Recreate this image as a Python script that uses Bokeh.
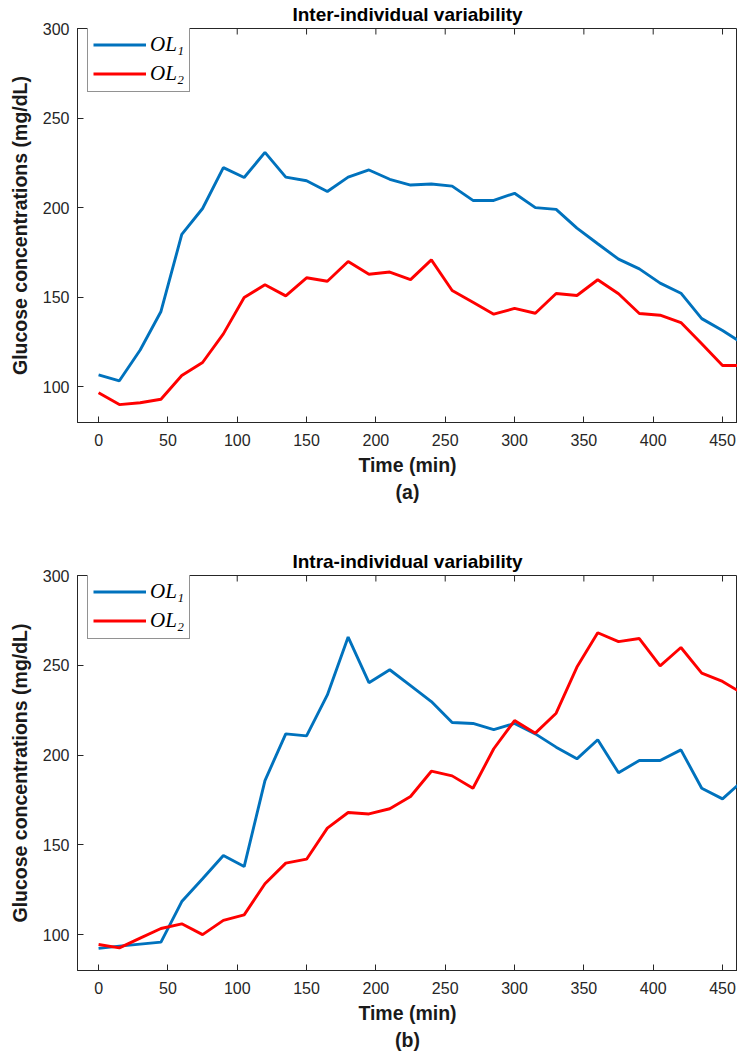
import math
from bokeh.plotting import figure
from bokeh.models import Range1d, FixedTicker, Legend, LegendItem, Title
from bokeh.layouts import column
from bokeh.embed import file_html
from bokeh.resources import INLINE

# ---- data ----
time_min = [0, 15, 30, 45, 60, 75, 90, 105, 120, 135, 150, 165, 180, 195, 210, 225,
            240, 255, 270, 285, 300, 315, 330, 345, 360, 375, 390, 405, 420, 435, 450, 465]

inter_ol1 = [106.6, 103.3, 120.5, 142, 185, 199.5, 222.3, 216.8, 230.8, 217,
             215, 209, 217, 221, 215.8, 212.6, 213.2, 212, 204, 204,
             208, 200, 199, 188.5, 179.8, 171.2, 165.8, 157.8, 152.2, 138,
             131.4, 124]
inter_ol2 = [96.6, 90, 91, 93, 106.2, 113.5, 129.5, 149.8, 156.9, 150.7,
             160.8, 158.9, 169.9, 162.8, 164, 159.8, 170.8, 153.7, 147.2, 140.5,
             143.7, 141, 152, 150.9, 159.7, 151.9, 140.9, 139.9, 135.8, 124,
             111.8, 111.8]

intra_ol1 = [92.3, 93.6, 94.7, 95.8, 118.4, 131.1, 144.1, 137.9, 185.8, 211.8,
             210.7, 233.5, 265.7, 240.3, 247.5, 238.7, 229.8, 218.1, 217.6, 214.1,
             217.6, 211.8, 204.4, 197.9, 208.5, 190.1, 197, 197, 202.9, 181.5,
             175.6, 186]
intra_ol2 = [94.5, 92.6, 98, 103.4, 106, 100, 107.9, 111, 128.3, 139.8,
             142, 159.3, 168, 167.2, 170.1, 176.9, 191, 188.4, 181.5, 203.5,
             219.2, 212.2, 223.3, 249, 268.1, 263.2, 264.9, 249.7, 259.9, 245.6,
             241, 234]

x_ticks = [0, 50, 100, 150, 200, 250, 300, 350, 400, 450]
y_ticks = [100, 150, 200, 250, 300]
y_top = 300
series_labels = ["OL\u2081", "OL\u2082"]
titles = ["Inter-individual variability", "Intra-individual variability"]
sublabels = ["(a)", "(b)"]

FONT = "Liberation Sans"
AX = "#262626"
BLUE = "#0072BD"
RED = "#FF0000"


def make_fig(title, sub, ol1, ol2, height, top, frame_h):
    p = figure(width=737, height=height, output_backend="svg", toolbar_location=None,
               x_range=Range1d(-15.2, 460.8), y_range=Range1d(80, y_top),
               min_border_left=77, min_border_right=0, min_border_top=top,
               min_border_bottom=height - top - frame_h)
    p.xgrid.visible = False
    p.ygrid.visible = False
    p.outline_line_color = AX
    p.outline_line_width = 1
    p.background_fill_color = "white"
    p.border_fill_color = "white"

    r1 = p.line(time_min, ol1, line_color=BLUE, line_width=2.9)
    r2 = p.line(time_min, ol2, line_color=RED, line_width=2.9)

    # inward tick marks along the top edge of the box (clipped to the frame)
    p.scatter(x=x_ticks, y=[y_top] * len(x_ticks), marker="dash", angle=math.pi / 2,
              size=12, line_color=AX, line_width=1)

    p.title.text = title
    p.title.align = "center"
    p.title.vertical_align = "middle"
    p.title.text_font = FONT
    p.title.text_font_size = "19px"
    p.title.text_font_style = "bold"
    p.title.text_color = "black"
    p.title.offset = 3
    p.title.standoff = 5

    for ax in (p.xaxis[0], p.yaxis[0]):
        ax.axis_line_color = AX
        ax.major_tick_line_color = AX
        ax.major_tick_in = 6
        ax.major_tick_out = 0
        ax.minor_tick_line_color = None
        ax.major_label_text_font = FONT
        ax.major_label_text_font_size = "16px"
        ax.major_label_text_color = AX
        ax.axis_label_text_font = FONT
        ax.axis_label_text_font_size = "19.5px"
        ax.axis_label_text_font_style = "bold"
        ax.axis_label_text_color = "#1a1a1a"

    p.xaxis.ticker = FixedTicker(ticks=x_ticks)
    p.yaxis.ticker = FixedTicker(ticks=y_ticks)
    p.xaxis.axis_label = "Time (min)"
    p.yaxis.axis_label = "Glucose concentrations (mg/dL)"
    p.xaxis.major_label_standoff = 11
    p.xaxis.axis_label_standoff = 5
    p.yaxis.major_label_standoff = 8
    p.yaxis.axis_label_standoff = 9

    p.add_layout(Title(text=sub, align="center", text_font=FONT, text_font_size="19.5px",
                       text_font_style="bold", text_color="#1a1a1a", offset=3, standoff=0), "below")

    legend = Legend(items=[LegendItem(label=series_labels[0], renderers=[r1]),
                           LegendItem(label=series_labels[1], renderers=[r2])],
                    location=(10, frame_h - 6 - 58), orientation="vertical",
                    label_text_font="Liberation Serif", label_text_font_style="italic",
                    label_text_font_size="21px", label_text_color="black",
                    glyph_width=53, glyph_height=23, label_height=23, label_standoff=4,
                    spacing=4, padding=5, margin=0,
                    border_line_color=AX, border_line_width=1,
                    background_fill_color="white", background_fill_alpha=1.0)
    p.add_layout(legend)
    return p


p1 = make_fig(titles[0], sublabels[0], inter_ol1, inter_ol2, 527, 28, 394)
p2 = make_fig(titles[1], sublabels[1], intra_ol1, intra_ol2, 526, 48, 395)

layout = column(p1, p2, spacing=0)
open("out.html", "w").write(file_html(layout, INLINE))
